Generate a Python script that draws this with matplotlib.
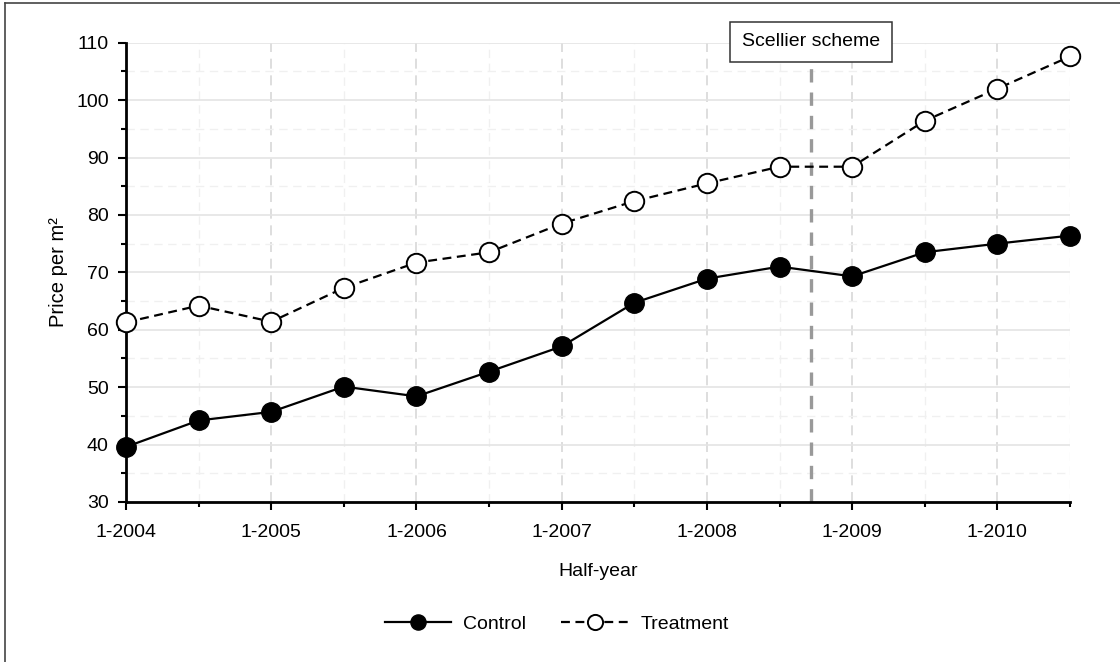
import matplotlib
matplotlib.use("Agg")
import matplotlib.pyplot as plt
from matplotlib.lines import Line2D
from matplotlib.ticker import MultipleLocator

# data
half_years = [2004.0, 2004.5, 2005.0, 2005.5, 2006.0, 2006.5, 2007.0,
              2007.5, 2008.0, 2008.5, 2009.0, 2009.5, 2010.0, 2010.5]
control = [39.6, 44.2, 45.7, 50.1, 48.4, 52.7, 57.1,
           64.7, 68.9, 71.0, 69.3, 73.5, 75.0, 76.4]
treatment = [61.3, 64.2, 61.4, 67.3, 71.7, 73.5, 78.5,
             82.4, 85.5, 88.4, 88.4, 96.4, 102.0, 107.6]
year_ticks = [2004, 2005, 2006, 2007, 2008, 2009, 2010]
year_labels = ['1-2004', '1-2005', '1-2006', '1-2007', '1-2008', '1-2009', '1-2010']
scheme_date = 2008.715
scheme_label = 'Scellier scheme'

plt.rcParams['font.family'] = ['Liberation Sans', 'DejaVu Sans']
plt.rcParams['font.size'] = 14

fig = plt.figure(figsize=(11.2, 6.62), dpi=100)
ax = fig.add_axes([0.1125, 0.2417, 0.8429, 0.6938])

# grid
ax.xaxis.set_major_locator(MultipleLocator(1))
ax.xaxis.set_minor_locator(MultipleLocator(0.5))
ax.yaxis.set_major_locator(MultipleLocator(10))
ax.yaxis.set_minor_locator(MultipleLocator(5))
ax.grid(axis='y', which='major', color='#e4e4e4', lw=1.2, ls='-')
ax.grid(axis='y', which='minor', color='#f0f0f0', lw=1.0, ls=(0, (6, 4)))
ax.grid(axis='x', which='major', color='#d8d8d8', lw=1.2, ls=(0, (6, 4)))
ax.grid(axis='x', which='minor', color='#f0f0f0', lw=1.0, ls=(0, (6, 4)))
ax.set_axisbelow(True)

# scheme marker line
ax.vlines(scheme_date, 30, 107.4, colors='#999999', lw=2.4,
          linestyles=(0, (4, 3)), zorder=1.5)
ax.text(scheme_date, 1.002, scheme_label, transform=ax.get_xaxis_transform(),
        ha='center', va='center', fontsize=14, zorder=5,
        bbox=dict(boxstyle='square,pad=0.6', fc='white', ec='#333333', lw=1.1))

ax.plot(half_years, control, color='black', lw=1.6, marker='o', ms=14,
        mfc='black', mec='black', label='Control', clip_on=False, zorder=4)
ax.plot(half_years, treatment, color='black', lw=1.6, ls=(0, (4, 2.5)),
        marker='o', ms=14, mfc='white', mec='black', mew=1.4,
        label='Treatment', clip_on=False, zorder=4)

ax.set_xlim(2004, 2010.5)
ax.set_ylim(30, 110)
ax.set_xticks(year_ticks)
ax.set_xticklabels(year_labels)

for s in ['top', 'right']:
    ax.spines[s].set_visible(False)
for s in ['left', 'bottom']:
    ax.spines[s].set_linewidth(2.0)
ax.tick_params(which='major', length=5.5, width=1.5, pad=7, labelsize=14)
ax.tick_params(axis='x', which='major', pad=10)
ax.tick_params(which='minor', length=3.5, width=1.5)

ax.set_xlabel('Half-year', fontsize=14, labelpad=16)
ax.set_ylabel('Price per m²', fontsize=14.5, labelpad=6)

fig.legend(loc='center', bbox_to_anchor=(0.497, 1 - 624 / 662), ncol=2,
           frameon=False, handlelength=3.4, handletextpad=0.65,
           columnspacing=1.8, fontsize=14, markerscale=0.78)

# frame lines at top and left of the figure
fig.add_artist(Line2D([5 / 1120, 5 / 1120], [0, 1 - 3 / 662],
                      transform=fig.transFigure, color='#444444', lw=1.2))
fig.add_artist(Line2D([5 / 1120, 1], [1 - 3 / 662, 1 - 3 / 662],
                      transform=fig.transFigure, color='#444444', lw=1.2))

fig.savefig('out.png', dpi=100)
